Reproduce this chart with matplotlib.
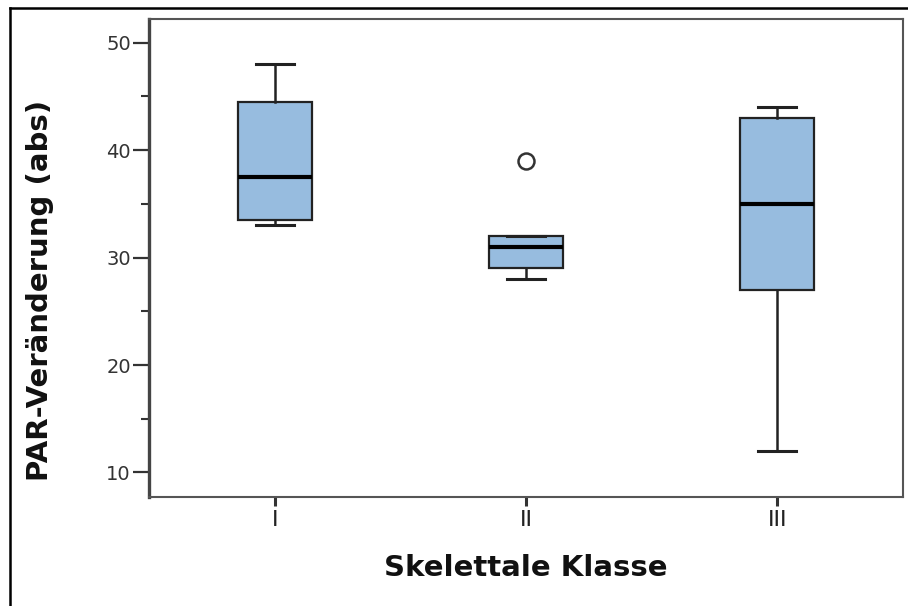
import matplotlib
matplotlib.use("Agg")
import matplotlib.pyplot as plt
from matplotlib.lines import Line2D

categories = ["I", "II", "III"]
whisker_low = [33.0, 28.0, 12.0]
q1 = [33.5, 29.0, 27.0]
median = [37.5, 31.0, 35.0]
q3 = [44.5, 32.0, 43.0]
whisker_high = [48.0, 32.0, 44.0]
outliers = [[], [39.0], []]

y_ticks = [10, 20, 30, 40, 50]
y_minor = [15, 25, 35, 45]

fig = plt.figure(figsize=(9.08, 6.06), dpi=100)
fig.patch.set_facecolor("white")

W, H = 908, 606
ax = fig.add_axes([149 / W, 1 - 497 / H, (903 - 149) / W, (497 - 19) / H])

stats = []
for i, c in enumerate(categories):
    stats.append(dict(label=c, whislo=whisker_low[i], q1=q1[i], med=median[i],
                      q3=q3[i], whishi=whisker_high[i], fliers=outliers[i]))

positions = [1, 2, 3]
ax.bxp(stats, positions=positions, widths=0.295, capwidths=0.15,
       patch_artist=True, showfliers=True,
       boxprops=dict(facecolor="#97BCDF", edgecolor="#222222", linewidth=1.6),
       medianprops=dict(color="black", linewidth=3.0),
       whiskerprops=dict(color="#222222", linewidth=1.8),
       capprops=dict(color="#222222", linewidth=2.2),
       flierprops=dict(marker="o", markersize=11.5, markerfacecolor="none",
                       markeredgecolor="#333333", markeredgewidth=1.8))

ax.set_xlim(0.5, 3.5)
ax.set_ylim(7.72, 52.2)
ax.set_yticks(y_ticks)
ax.set_yticks(y_minor, minor=True)
ax.set_yticklabels([str(t) for t in y_ticks])
ax.set_xticks(positions)
ax.set_xticklabels(categories)

for s in ["top", "right", "bottom"]:
    ax.spines[s].set_color("#555555")
    ax.spines[s].set_linewidth(1.5)
ax.spines["left"].set_color("#444444")
ax.spines["left"].set_linewidth(2.4)

ax.tick_params(axis="y", which="major", length=11.5, width=1.6, color="#333333",
               labelsize=14, labelcolor="#333333", pad=1.5, direction="out")
ax.tick_params(axis="y", which="minor", length=5.8, width=1.5, color="#333333",
               direction="out")
ax.tick_params(axis="x", which="major", length=6.5, width=2.2, color="#333333",
               labelsize=16, labelcolor="#222222", pad=3, direction="out")

for lab in ax.get_yticklabels() + ax.get_xticklabels():
    lab.set_family("DejaVu Sans")

fig.text(40 / W, 1 - 290 / H, "PAR-Veränderung (abs)", rotation=90,
         ha="center", va="center", fontsize=21, fontweight="bold",
         family="DejaVu Sans", color="#111111")
fig.text(526 / W, 1 - 576 / H, "Skelettale Klasse", ha="center", va="baseline",
         fontsize=21, fontweight="bold", family="DejaVu Sans", color="#111111")

# outer frame (left and top edges visible)
fig.add_artist(Line2D([10 / W, 10 / W], [0, 1 - 8 / H], transform=fig.transFigure,
                      color="black", linewidth=1.8))
fig.add_artist(Line2D([10 / W, 1], [1 - 8 / H, 1 - 8 / H], transform=fig.transFigure,
                      color="black", linewidth=1.8))

fig.savefig("out.png", dpi=100)
